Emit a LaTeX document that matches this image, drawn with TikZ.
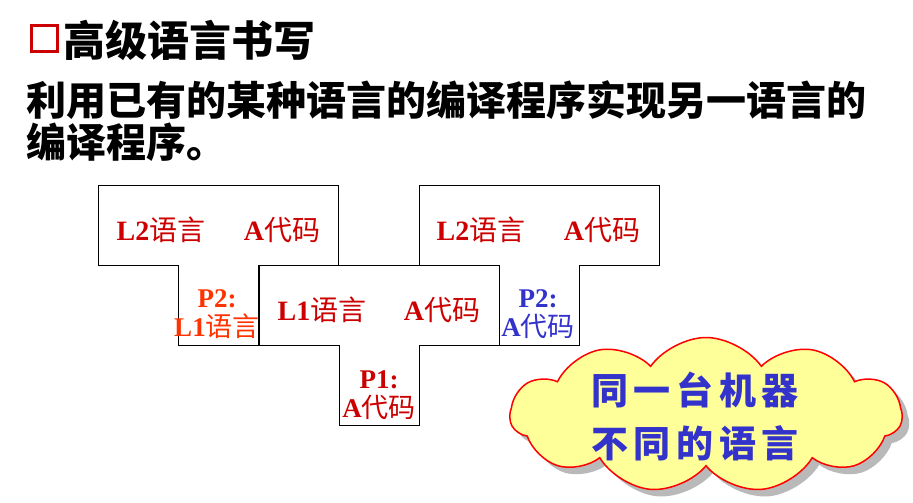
\documentclass[tikz,border=0pt]{standalone}
\usepackage{fontspec}
\usetikzlibrary{shapes.symbols}
\setmainfont{Liberation Serif}
\newfontfamily\cjk{Noto Sans CJK SC}
\newfontfamily\cloudfont[LetterSpace=15]{Noto Sans CJK SC}
\definecolor{dred}{HTML}{CC0000}
\definecolor{ored}{HTML}{FF3300}
\definecolor{tblue}{HTML}{3333CC}
\definecolor{cloudy}{HTML}{FFFF99}
\newcommand{\mixt}[2]{{\bfseries #1}{\cjk #2}}
\tikzset{
  tshape/.style={draw=black, line width=1pt, fill=white},
  boxtxt/.style={inner sep=0pt, font=\fontsize{28}{30}\selectfont, text=dred},
  stemtxt/.style={inner sep=0pt, align=center, font=\fontsize{27}{29}\selectfont, text=dred},
  title/.style={inner sep=0pt, anchor=west, font=\cjk\bfseries\fontsize{42}{46}\selectfont},
  body/.style={inner sep=0pt, anchor=west, font=\cjk\bfseries\fontsize{40}{44}\selectfont},
  cloudbase/.style={cloud, cloud puffs=11, cloud puff arc=110, aspect=2.5, minimum width=392pt, minimum height=155pt, inner sep=0pt},
  cloudtxt/.style={inner sep=0pt, text=tblue, font=\cloudfont\bfseries\fontsize{37}{40}\selectfont},
}
\newcommand{\tdiag}[2]{%
  \draw[tshape] (#1,#2) -- ++(240,0) -- ++(0,80) -- ++(-80,0) -- ++(0,80) -- ++(-80,0) -- ++(0,-80) -- ++(-80,0) -- cycle;}
\begin{document}
\begin{tikzpicture}[x=1pt,y=-1pt]
\useasboundingbox (0,0) rectangle (913,503);
% title
\draw[dred, line width=3pt] (31,26) rectangle (57,52);
\node[title] (ttl) at (63,40) {高级语言书写};
\node[body] (l1) at (26,100) {利用已有的某种语言的编译程序实现另一语言的};
\node[body] (l2) at (26,142) {编译程序。};
% T diagrams
\tdiag{98}{185}
\tdiag{419}{185}
\tdiag{259}{265}
% left T
\node[boxtxt] (a1) at (161,230) {\mixt{L2}{语言}};
\node[boxtxt] (a2) at (282,230) {\mixt{A}{代码}};
\node[stemtxt, text=ored] (a3) at (217,314) {\textbf{P2:}\\\mixt{L1}{语言}};
% right T
\node[boxtxt] (b1) at (481,230) {\mixt{L2}{语言}};
\node[boxtxt] (b2) at (602,230) {\mixt{A}{代码}};
\node[stemtxt, text=tblue] (b3) at (538,314) {\textbf{P2:}\\\mixt{A}{代码}};
% middle T
\node[boxtxt] (c1) at (322,310) {\mixt{L1}{语言}};
\node[boxtxt] (c2) at (442,310) {\mixt{A}{代码}};
\node[stemtxt] (c3) at (379,395) {\textbf{P1:}\\\mixt{A}{代码}};
% cloud
\node[cloudbase, fill=gray!55] (sh) at (713,422) {};
\node[cloudbase, fill=cloudy, draw=red, line width=1.5pt] (cl) at (706,415) {};
\node[cloudtxt] (ct1) at (695,390) {同一台机器};
\node[cloudtxt] (ct2) at (695,443) {不同的语言};
\end{tikzpicture}
\end{document}
